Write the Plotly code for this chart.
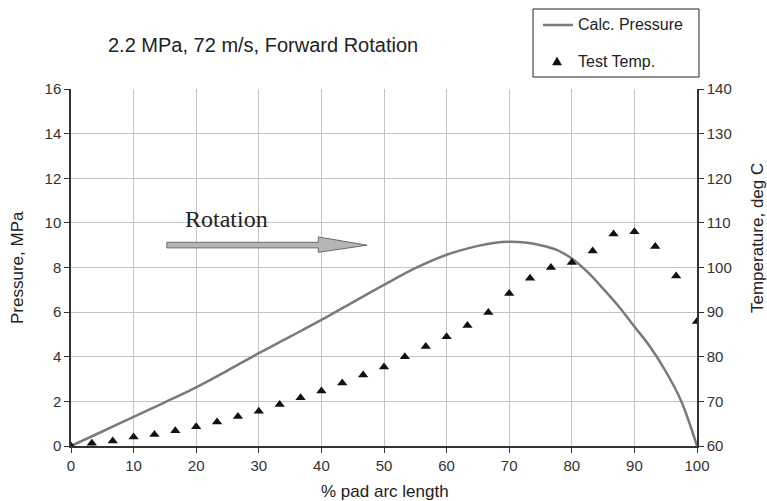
import plotly.graph_objects as go

# Calculated pressure (MPa) vs % pad arc length
press_x = [0, 5, 10, 15, 20, 25, 30, 35, 40, 45, 50, 55, 60, 65, 67.5, 70, 72.5, 75, 77.5, 80,
           82.5, 85, 87.5, 90, 92.5, 95, 97.5, 100]
press_y = [0, 0.65, 1.31, 1.96, 2.63, 3.38, 4.16, 4.9, 5.65, 6.44, 7.22, 7.97, 8.57, 8.97, 9.1, 9.15, 9.12, 9.0, 8.8, 8.4,
           7.8, 7.05, 6.25, 5.35, 4.45, 3.35, 2.0, 0]

# Test temperature (deg C)
temp_x = [0, 3.33, 6.67, 10, 13.33, 16.67, 20, 23.33, 26.67, 30, 33.33, 36.67, 40, 43.33,
          46.67, 50, 53.33, 56.67, 60, 63.33, 66.67, 70, 73.33, 76.67, 80, 83.33, 86.67,
          90, 93.33, 96.67, 100]
temp_y = [60, 60.6, 61.1, 62.0, 62.6, 63.4, 64.3, 65.4, 66.6, 67.8, 69.3, 70.8, 72.3, 74.1,
          75.9, 77.7, 80.0, 82.3, 84.5, 87.0, 89.9, 94.2, 97.6, 100.0, 101.1, 103.7, 107.5,
          108.0, 104.7, 98.1, 87.9]

x_ticks = list(range(0, 101, 10))
p_ticks = list(range(0, 17, 2))
t_ticks = list(range(60, 141, 10))

FONT = "Liberation Sans, Arial, sans-serif"
SERIF = "Liberation Serif, Times New Roman, serif"

# plot area in pixels
L, R, T, B = 71, 697, 89, 446
W, H = 767, 501
def px(xp):
    return (xp - L) / (R - L)
def py(yp):
    return (B - yp) / (B - T)

fig = go.Figure()
fig.add_trace(go.Scatter(x=press_x, y=press_y, mode="lines", name="Calc. Pressure",
                         line=dict(color="#7a7a7a", width=2.5, shape="spline", smoothing=1.0)))
fig.add_trace(go.Scatter(x=temp_x, y=temp_y, mode="markers", name="Test Temp.", yaxis="y2",
                         marker=dict(symbol="triangle-up", size=9, color="#111111")))

# Rotation arrow (block arrow) in data coords
fig.add_shape(type="path", xref="x", yref="y",
              path="M 15.3 9.13 L 39.5 9.13 L 39.5 9.37 L 47.3 9.0 L 39.5 8.68 L 39.5 8.88 L 15.3 8.88 Z",
              fillcolor="#b5b5b5", line=dict(color="#6a6a6a", width=1))
fig.add_annotation(x=24.8, y=10.18, xref="x", yref="y", text="Rotation", showarrow=False,
                   xanchor="center", yanchor="middle",
                   font=dict(family=SERIF, size=24, color="#222"))

# Title
fig.add_annotation(x=px(263), y=py(45), xref="paper", yref="paper", xanchor="center", yanchor="middle",
                   text="2.2 MPa, 72 m/s, Forward Rotation", showarrow=False,
                   font=dict(family=FONT, size=20, color="#222"))

# Axis titles
fig.add_annotation(x=px(385), y=py(491), xref="paper", yref="paper", xanchor="center", yanchor="middle",
                   text="% pad arc length", showarrow=False, font=dict(family=FONT, size=17, color="#222"))
fig.add_annotation(x=px(17), y=py(268), xref="paper", yref="paper", xanchor="center", yanchor="middle",
                   text="Pressure, MPa", showarrow=False, textangle=-90,
                   font=dict(family=FONT, size=17, color="#222"))
fig.add_annotation(x=px(757), y=py(238), xref="paper", yref="paper", xanchor="center", yanchor="middle",
                   text="Temperature, deg C", showarrow=False, textangle=-90,
                   font=dict(family=FONT, size=17, color="#222"))

# Manual legend
fig.add_shape(type="rect", xref="paper", yref="paper", x0=px(533), x1=px(699), y0=py(77), y1=py(9),
              line=dict(color="#222", width=1), fillcolor="white")
fig.add_shape(type="line", xref="paper", yref="paper", x0=px(543), x1=px(573), y0=py(25), y1=py(25),
              line=dict(color="#7a7a7a", width=2.5))
fig.add_annotation(x=px(576), y=py(25), xref="paper", yref="paper", xanchor="left", yanchor="middle",
                   text="Calc. Pressure", showarrow=False, font=dict(family=FONT, size=16, color="#222"))
tri = "M {:.5f} {:.5f} L {:.5f} {:.5f} L {:.5f} {:.5f} Z".format(
    px(552.5), py(65), px(561.5), py(65), px(557), py(57))
fig.add_shape(type="path", xref="paper", yref="paper", path=tri,
              fillcolor="#111111", line=dict(color="#111111", width=0.5))
fig.add_annotation(x=px(576), y=py(61), xref="paper", yref="paper", xanchor="left", yanchor="middle",
                   text="Test Temp.", showarrow=False, font=dict(family=FONT, size=16, color="#222"))

axis_common = dict(showline=True, linecolor="#333", linewidth=1.5, ticklen=5, tickcolor="#333",
                   zeroline=False, tickfont=dict(family=FONT, size=15, color="#333"))
fig.update_layout(
    width=W, height=H,
    margin=dict(l=L, r=W - R, t=T, b=H - B),
    paper_bgcolor="white", plot_bgcolor="white",
    font=dict(family=FONT, size=12, color="#333"),
    showlegend=False,
    xaxis=dict(range=[0, 100], tickvals=x_ticks, showgrid=True, gridcolor="#c4c4c4", gridwidth=1.2,
               ticks="outside", **axis_common),
    yaxis=dict(range=[0, 16], tickvals=p_ticks, showgrid=True, gridcolor="#c4c4c4", gridwidth=1.2,
               ticks="outside", **axis_common),
    yaxis2=dict(range=[60, 140], tickvals=t_ticks, overlaying="y", side="right", showgrid=False,
                ticks="outside", **axis_common),
)
fig.write_html("out.html")
